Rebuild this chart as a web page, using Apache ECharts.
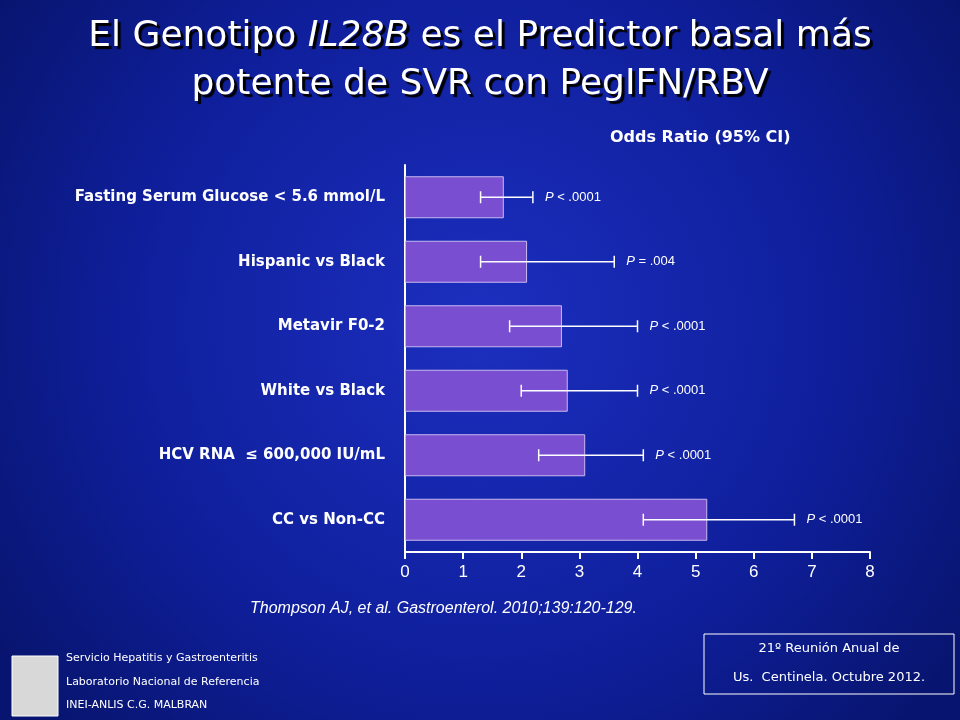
<!DOCTYPE html>
<html><head><meta charset="utf-8">
<script src="https://cdn.jsdelivr.net/npm/echarts@6/dist/echarts.min.js"></script>
<style>html,body{margin:0;padding:0;background:#0a1a8a}#c{width:960px;height:720px}</style>
</head><body><div id="c"></div>
<script>
var categories = ['CC vs Non-CC', 'HCV RNA  \u2264 600,000 IU/mL', 'White vs Black', 'Metavir F0-2', 'Hispanic vs Black', 'Fasting Serum Glucose < 5.6 mmol/L'];
var oddsRatio = [5.2, 3.1, 2.8, 2.7, 2.1, 1.7];
var ciLow = [4.1, 2.3, 2.0, 1.8, 1.3, 1.3];
var ciHigh = [6.7, 4.1, 4.0, 4.0, 3.6, 2.2];
var pSign = ['<', '<', '<', '<', '=', '<'];
var pValue = ['.0001', '.0001', '.0001', '.0001', '.004', '.0001'];

var chart = echarts.init(document.getElementById('c'));
var titleFont = '"Comic Sans MS","DejaVu Sans",sans-serif';
var shadow = {color: '#fff', fontSize: 36, fontFamily: titleFont, textShadowColor: '#000', textShadowBlur: 1, textShadowOffsetX: 3, textShadowOffsetY: 3};
var option = {
  backgroundColor: {type: 'radial', x: 0.5, y: 0.45, r: 0.8,
    colorStops: [{offset: 0, color: '#1c2fbf'}, {offset: 0.6, color: '#0f1f9c'}, {offset: 1, color: '#081570'}]},
  title: {
    text: '{n|El Genotipo }{i|IL28B}{n| es el Predictor basal más}\n{n|potente de SVR con PegIFN/RBV}',
    left: 'center', top: 8,
    textStyle: {color: '#fff', fontSize: 36, fontFamily: titleFont, fontWeight: 'normal', lineHeight: 48,
      rich: {n: Object.assign({lineHeight: 48}, shadow), i: Object.assign({fontStyle: 'italic', lineHeight: 48}, shadow)}}
  },
  grid: {left: 405, right: 90, top: 165, bottom: 168},
  xAxis: {type: 'value', min: 0, max: 8, interval: 1,
    axisLine: {show: true, lineStyle: {color: '#fff', width: 2}},
    axisTick: {show: true, length: 7, lineStyle: {color: '#fff', width: 2}},
    axisLabel: {color: '#fff', fontSize: 17, fontFamily: 'Arial, Liberation Sans', margin: 12},
    splitLine: {show: false}},
  yAxis: {type: 'category', data: categories,
    axisLine: {show: true, lineStyle: {color: '#fff', width: 2}},
    axisTick: {show: false},
    axisLabel: {color: '#fff', fontSize: 15, fontWeight: 'bold', fontFamily: 'Verdana, DejaVu Sans', margin: 20}},
  graphic: [
    {type: 'text', left: 610, top: 130, style: {text: 'Odds Ratio (95% CI)', fill: '#fff', font: 'bold 16px Verdana, DejaVu Sans'}},
    {type: 'text', left: 250, top: 601, style: {text: 'Thompson AJ, et al. Gastroenterol. 2010;139:120-129.', fill: '#fff', font: 'italic 16px Arial, Liberation Sans'}},
    {type: 'rect', shape: {x: 12, y: 656, width: 46, height: 60}, style: {fill: '#d8d8d8', stroke: '#fff'}},
    {type: 'text', left: 66, top: 653, style: {text: 'Servicio Hepatitis y Gastroenteritis', fill: '#fff', font: '11px "Comic Sans MS", DejaVu Sans'}},
    {type: 'text', left: 66, top: 677, style: {text: 'Laboratorio Nacional de Referencia', fill: '#fff', font: '11px "Comic Sans MS", DejaVu Sans'}},
    {type: 'text', left: 66, top: 700, style: {text: 'INEI-ANLIS C.G. MALBRAN', fill: '#fff', font: '11px "Comic Sans MS", DejaVu Sans'}},
    {type: 'rect', shape: {x: 704, y: 634, width: 250, height: 60}, style: {fill: 'transparent', stroke: '#fff', lineWidth: 1}},
    {type: 'text', x: 829, y: 649, style: {text: '21º Reunión Anual de', fill: '#fff', align: 'center', verticalAlign: 'middle', font: '13px "Comic Sans MS", DejaVu Sans'}},
    {type: 'text', x: 829, y: 678, style: {text: 'Us.  Centinela. Octubre 2012.', fill: '#fff', align: 'center', verticalAlign: 'middle', font: '13px "Comic Sans MS", DejaVu Sans'}}
  ],
  series: [
    {type: 'bar', data: oddsRatio, barWidth: 42, z: 2,
      itemStyle: {color: '#7a4ed0', borderColor: '#c8b8f0', borderWidth: 1}},
    {type: 'custom', z: 10,
      data: categories.map(function (c, i) { return [i, ciLow[i], ciHigh[i]]; }),
      encode: {x: [1, 2], y: 0},
      renderItem: function (params, api) {
        var i = api.value(0);
        var a = api.coord([api.value(1), i]);
        var b = api.coord([api.value(2), i]);
        var h = 6;
        var st = {stroke: '#fff', lineWidth: 1.5};
        return {type: 'group', children: [
          {type: 'line', shape: {x1: a[0], y1: a[1], x2: b[0], y2: b[1]}, style: st},
          {type: 'line', shape: {x1: a[0], y1: a[1] - h, x2: a[0], y2: a[1] + h}, style: st},
          {type: 'line', shape: {x1: b[0], y1: b[1] - h, x2: b[0], y2: b[1] + h}, style: st},
          {type: 'text', x: b[0] + 12, y: b[1], style: {text: '{p|P} ' + pSign[i] + ' ' + pValue[i], fill: '#fff', verticalAlign: 'middle',
            font: '13px Arial, Liberation Sans', rich: {p: {fontStyle: 'italic', fill: '#fff', font: 'italic 13px Arial, Liberation Sans'}}}}
        ]};
      }}
  ]
};
chart.setOption(option);
</script></body></html>
